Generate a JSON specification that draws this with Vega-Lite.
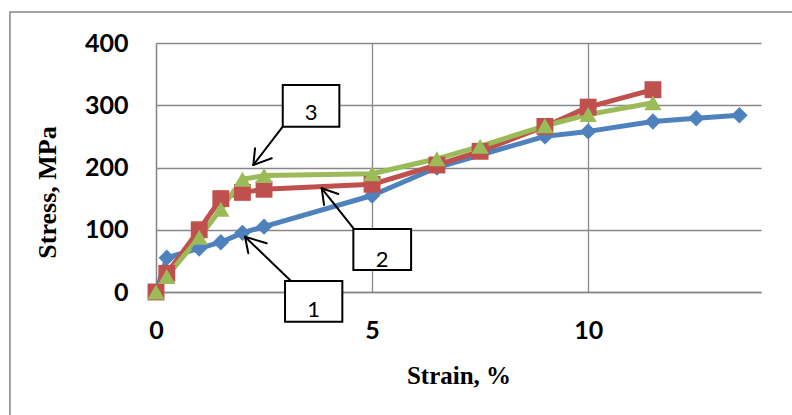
{
  "$schema": "https://vega.github.io/schema/vega-lite/v6.json",
  "autosize": "none",
  "width": 605,
  "height": 249,
  "padding": {"left": 156, "top": 43, "right": 31, "bottom": 123},
  "background": "white",
  "datasets": {
    "frame": [{"x": -3.38, "y": 449.8, "x2": 25, "y2": -400}],
    "curves": [
      {"series": "1", "x": 0, "y": 0},
      {"series": "1", "x": 0.25, "y": 55},
      {"series": "1", "x": 1, "y": 70},
      {"series": "1", "x": 1.5, "y": 80},
      {"series": "1", "x": 2, "y": 95},
      {"series": "1", "x": 2.5, "y": 105},
      {"series": "1", "x": 5, "y": 155},
      {"series": "1", "x": 6.5, "y": 200},
      {"series": "1", "x": 9, "y": 250},
      {"series": "1", "x": 10, "y": 258},
      {"series": "1", "x": 11.5, "y": 274},
      {"series": "1", "x": 12.5, "y": 279},
      {"series": "1", "x": 13.5, "y": 284},
      {"series": "2", "x": 0, "y": 0},
      {"series": "2", "x": 0.25, "y": 30},
      {"series": "2", "x": 1, "y": 100},
      {"series": "2", "x": 1.5, "y": 150},
      {"series": "2", "x": 2, "y": 160},
      {"series": "2", "x": 2.5, "y": 165},
      {"series": "2", "x": 5, "y": 173},
      {"series": "2", "x": 6.5, "y": 204},
      {"series": "2", "x": 7.5, "y": 226},
      {"series": "2", "x": 9, "y": 266},
      {"series": "2", "x": 10, "y": 297},
      {"series": "2", "x": 11.5, "y": 325},
      {"series": "3", "x": 0, "y": 0},
      {"series": "3", "x": 0.25, "y": 25},
      {"series": "3", "x": 1, "y": 88},
      {"series": "3", "x": 1.5, "y": 133},
      {"series": "3", "x": 2, "y": 181},
      {"series": "3", "x": 2.5, "y": 187},
      {"series": "3", "x": 5, "y": 190},
      {"series": "3", "x": 6.5, "y": 214},
      {"series": "3", "x": 7.5, "y": 234},
      {"series": "3", "x": 9, "y": 267},
      {"series": "3", "x": 10, "y": 285},
      {"series": "3", "x": 11.5, "y": 304}
    ],
    "boxes": [
      {"label": "3", "x": 2.933, "x2": 4.243, "y": 332.5, "y2": 265.5, "tx": 3.588, "ty": 276},
      {"label": "2", "x": 4.567, "x2": 5.903, "y": 101.2, "y2": 35.3, "tx": 5.235, "ty": 40.6},
      {"label": "1", "x": 2.986, "x2": 4.312, "y": 17.7, "y2": -47.7, "tx": 3.649, "ty": -39.7}
    ],
    "arrows": [
      {"x": 2.933, "y": 265.5, "x2": 2.252, "y2": 204.0},
      {"x": 2.292, "y": 230.8, "x2": 2.252, "y2": 204.0},
      {"x": 2.678, "y": 214.8, "x2": 2.252, "y2": 204.0},
      {"x": 4.589, "y": 100.7, "x2": 3.835, "y2": 166.6},
      {"x": 3.888, "y": 139.8, "x2": 3.835, "y2": 166.6},
      {"x": 4.219, "y": 157.4, "x2": 3.835, "y2": 166.6},
      {"x": 3.124, "y": 17.7, "x2": 2.060, "y2": 88.8},
      {"x": 2.136, "y": 62.2, "x2": 2.060, "y2": 88.8},
      {"x": 2.562, "y": 78.2, "x2": 2.060, "y2": 88.8}
    ]
  },
  "encoding": {
    "x": {
      "field": "x", "type": "quantitative",
      "scale": {"domain": [0, 14], "nice": false, "zero": false},
      "axis": {
        "values": [0, 5, 10], "grid": true, "ticks": false, "labelFlush": false,
        "gridColor": "#878787", "gridWidth": 1.3, "domainColor": "#878787", "domainWidth": 1.3,
        "labelFont": "Lato", "labelFontWeight": "bold", "labelFontSize": 25, "labelColor": "black",
        "labelPadding": 26,
        "title": "Strain, %", "titleFont": "Liberation Serif", "titleFontWeight": "bold", "titleFontSize": 25,
        "titleColor": "black", "titleX": 302.5, "titleY": 91, "titleAlign": "center", "titleBaseline": "alphabetic"
      }
    },
    "y": {
      "field": "y", "type": "quantitative",
      "scale": {"domain": [0, 400], "nice": false, "zero": false},
      "axis": {
        "values": [0, 100, 200, 300, 400], "grid": true, "ticks": false, "labelFlush": false,
        "gridColor": "#878787", "gridWidth": 1.3, "domainColor": "#878787", "domainWidth": 1.3,
        "labelFont": "Lato", "labelFontWeight": "bold", "labelFontSize": 25, "labelColor": "black",
        "labelPadding": 28,
        "title": "Stress, MPa", "titleFont": "Liberation Serif", "titleFontWeight": "bold", "titleFontSize": 26,
        "titleColor": "black", "titleX": -109, "titleY": 149, "titleAngle": -90, "titleAlign": "center", "titleBaseline": "middle"
      }
    }
  },
  "layer": [
    {
      "data": {"name": "frame"},
      "mark": {"type": "rect", "fill": "transparent", "stroke": "#878787", "strokeWidth": 1.5, "clip": false},
      "encoding": {"x2": {"field": "x2"}, "y2": {"field": "y2"}}
    },
    {
      "data": {"name": "curves"},
      "mark": {"type": "line", "strokeWidth": 5, "strokeJoin": "round"},
      "encoding": {
        "color": {"field": "series", "type": "nominal", "scale": {"domain": ["1", "2", "3"], "range": ["#4F81BD", "#C0504D", "#9BBB59"]}, "legend": null}
      }
    },
    {
      "data": {"name": "curves"},
      "mark": {"type": "point", "filled": true, "opacity": 1, "clip": false},
      "encoding": {
        "color": {"field": "series", "type": "nominal", "scale": {"domain": ["1", "2", "3"], "range": ["#4F81BD", "#C0504D", "#9BBB59"]}, "legend": null},
        "shape": {"field": "series", "type": "nominal", "scale": {"domain": ["1", "2", "3"], "range": ["diamond", "square", "triangle-up"]}, "legend": null},
        "size": {"field": "series", "type": "nominal", "scale": {"domain": ["1", "2", "3"], "range": [270, 300, 300]}, "legend": null}
      }
    },
    {
      "data": {"name": "arrows"},
      "mark": {"type": "rule", "color": "black", "strokeWidth": 2, "strokeCap": "round", "clip": false},
      "encoding": {"x2": {"field": "x2"}, "y2": {"field": "y2"}}
    },
    {
      "data": {"name": "boxes"},
      "mark": {"type": "rect", "fill": "white", "stroke": "black", "strokeWidth": 2, "clip": false},
      "encoding": {"x2": {"field": "x2"}, "y2": {"field": "y2"}}
    },
    {
      "data": {"name": "boxes"},
      "mark": {"type": "text", "font": "Lato", "fontSize": 22, "color": "black", "align": "center", "baseline": "alphabetic", "clip": false},
      "encoding": {
        "x": {"field": "tx", "type": "quantitative"},
        "y": {"field": "ty", "type": "quantitative"},
        "text": {"field": "label"}
      }
    }
  ],
  "config": {"view": {"stroke": null}}
}
